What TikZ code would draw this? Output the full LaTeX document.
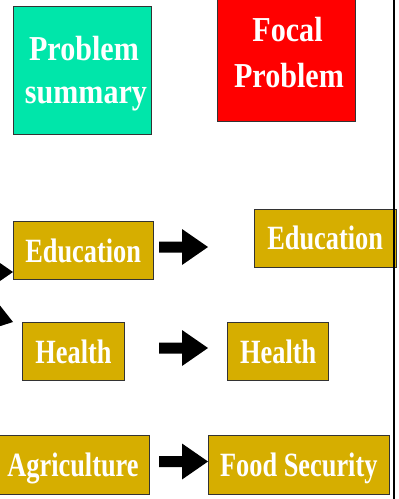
\documentclass[tikz,border=0pt]{standalone}
\usepackage{fontspec}
\setmainfont{Liberation Serif}
\newfontfamily\mainlbl[FakeStretch=0.775]{Liberation Serif}
\newfontfamily\titlelbl[FakeStretch=0.86]{Liberation Serif}
\definecolor{goldfill}{HTML}{D6AE00}
\definecolor{tealfill}{HTML}{00E6AA}
\definecolor{redfill}{HTML}{FF0000}
\definecolor{boxline}{HTML}{333333}
\tikzset{
  box/.style={draw=boxline, line width=1pt, inner sep=0pt, text=white,
    text height=23pt, text depth=0pt},
  goldbox/.style={box, fill=goldfill, font={\mainlbl\bfseries\fontsize{34}{44}\selectfont}},
  titlebox/.style={draw=boxline, line width=1pt, inner sep=0pt},
  titletext/.style={anchor=base, inner sep=0pt, text=white, font={\titlelbl\bfseries\fontsize{35}{44}\selectfont}},
  blockarrow/.pic={\fill[black] (-49,-5.5) -- (-26,-5.5) -- (-26,-18) -- (0,0) -- (-26,18) -- (-26,5.5) -- (-49,5.5) -- cycle;}
}
\begin{document}
\begin{tikzpicture}[x=1pt,y=-1pt]
\useasboundingbox (0,0) rectangle (399,499);
\clip (0,0) rectangle (399,499);
\node[titlebox, fill=tealfill, minimum width=137.7pt, minimum height=127.7pt] (ps) at (82.2,70.2) {};
\node[titletext] (ps1) at (84,60) {Problem};
\node[titletext] (ps2) at (86,103) {summary};
\node[titlebox, fill=redfill, minimum width=137.6pt, minimum height=135.3pt] (fp) at (286.5,53.6) {};
\node[titletext] (fp1) at (287.5,41) {Focal};
\node[titletext] (fp2) at (289,87) {Problem};
\node[goldbox, minimum width=139.7pt, minimum height=58pt] (edl) at (83.2,250.7) {Education};
\node[goldbox, minimum width=141.7pt, minimum height=58pt] (edr) at (325.2,238) {Education};
\node[goldbox, minimum width=101.6pt, minimum height=58.4pt] (hl) at (73.5,351.5) {Health};
\node[goldbox, minimum width=101pt, minimum height=58.4pt] (hr) at (278.2,351.5) {Health};
\node[goldbox, minimum width=153.4pt, minimum height=59pt] (ag) at (73,464.5) {Agriculture};
\node[goldbox, minimum width=181pt, minimum height=59pt] (fs) at (298.8,464.5) {Food Security};
\pic (a1) at (208,247) {blockarrow};
\pic (a2) at (208,348) {blockarrow};
\pic (a3) at (208,461.5) {blockarrow};
\pic (a4) at (13,272) {blockarrow};
\pic[rotate=-17] (a5) at (13,322) {blockarrow};
\draw[line width=1.5pt, black] (394,-2) -- (394,501);
\end{tikzpicture}
\end{document}
